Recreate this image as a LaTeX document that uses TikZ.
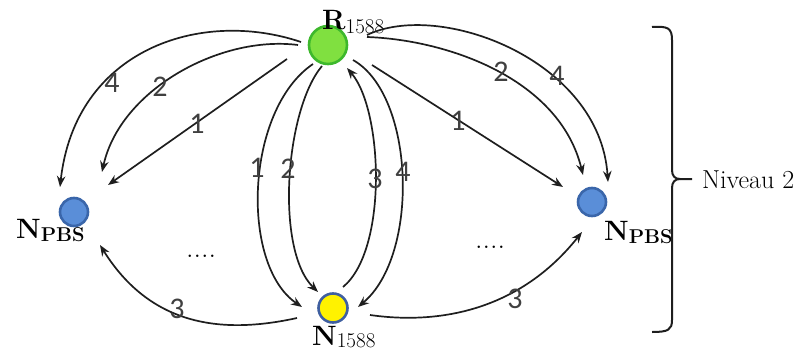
\documentclass[tikz,border=0pt]{standalone}
\usepackage{fontspec}
\newfontfamily\lblfont{Carlito}
\usetikzlibrary{arrows.meta,calc}
\definecolor{rgreen}{HTML}{80E040}
\definecolor{rgreenb}{HTML}{3DB82C}
\definecolor{yel}{HTML}{FFF200}
\definecolor{yelb}{HTML}{3F5FA0}
\definecolor{blu}{HTML}{5A8ED8}
\definecolor{blub}{HTML}{3A66AA}
\definecolor{ink}{HTML}{1E1E1E}
\tikzset{
  dot/.style={circle, inner sep=0pt, line width=2.6pt},
  arr/.style={draw=ink, line width=1.7pt, -{Stealth[length=11pt,width=8.5pt]}},
  num/.style={font=\lblfont\fontsize{30}{30}\selectfont, text=ink!85, inner sep=0pt},
  nlabel/.style={anchor=base west, inner sep=0pt, font=\fontsize{28}{28}\selectfont},
  dots/.style={font=\fontsize{30}{30}\selectfont, inner sep=0pt},
}
\begin{document}
\begin{tikzpicture}[x=1pt,y=-1pt]
\useasboundingbox (0,0) rectangle (803,353);

% nodes
\node[dot, fill=rgreen, draw=rgreenb, minimum size=38pt] (R) at (328,45) {};
\node[dot, fill=yel, draw=yelb, minimum size=29pt] (N) at (333,308) {};
\node[dot, fill=blu, draw=blub, minimum size=28pt] (L) at (74,212) {};
\node[dot, fill=blu, draw=blub, minimum size=28pt] (Rt) at (592,202) {};

% labels of nodes
\node[nlabel] (Rlab) at (322,30) {\textbf{R}\raisebox{-0.25ex}{\fontsize{21}{21}\selectfont 1588}};
\node[nlabel] (Nlab) at (312,345) {\textbf{N}\raisebox{-0.2ex}{\fontsize{21}{21}\selectfont 1588}};
\node[nlabel] (Llab) at (16,238) {\textbf{N}\raisebox{-0.3ex}{\fontsize{20}{20}\selectfont\bfseries PBS}};
\node[nlabel] (Rtlab) at (604,240) {\textbf{N}\raisebox{-0.3ex}{\fontsize{20}{20}\selectfont\bfseries PBS}};

% left connectors
\draw[arr] ($(R)+(-27,-3)$) .. controls (200,8) and (75,50) .. ($(L)+(-14,-25)$);
\draw[arr] ($(R)+(-30,0)$) .. controls (220,35) and (120,90) .. ($(L)+(28,-40)$);
\draw[arr] ($(R)+(-41,14)$) -- ($(L)+(34,-27)$);

% right connectors
\draw[arr] ($(R)+(39,-10)$) .. controls (440,0) and (600,60) .. ($(Rt)+(16,-20)$);
\draw[arr] ($(R)+(39,-8)$) .. controls (450,40) and (560,80) .. ($(Rt)+(-9,-27)$);
\draw[arr] ($(R)+(44,20)$) -- ($(Rt)+(-29,-15)$);

% vertical connectors
\draw[arr] ($(R)+(-15,19)$) .. controls (245,110) and (240,265) .. ($(N)+(-31,-1)$);
\draw[arr] ($(R)+(-6,21)$) .. controls (285,110) and (275,250) .. ($(N)+(-15,-16)$);
\draw[arr] ($(N)+(10,-21)$) .. controls (388,250) and (383,110) .. ($(R)+(19,23)$);
\draw[arr] ($(R)+(25,15)$) .. controls (415,95) and (420,255) .. ($(N)+(25,-1)$);

% bottom connectors
\draw[arr] ($(N)+(-36,10)$) .. controls (220,335) and (150,325) .. ($(L)+(26,33)$);
\draw[arr] ($(N)+(37,7)$) .. controls (440,325) and (520,310) .. ($(Rt)+(-10,30)$);

% number labels
\node[num] (n1) at (112,83) {4};
\node[num] (n2) at (160,87) {2};
\node[num] (n3) at (197,124) {1};
\node[num] (n4) at (557,76) {4};
\node[num] (n5) at (501,72) {2};
\node[num] (n6) at (458,121) {1};
\node[num] (n7) at (257,168) {1};
\node[num] (n8) at (288,169) {2};
\node[num] (n9) at (375,179) {3};
\node[num] (n10) at (403,172) {4};
\node[num] (n11) at (177,309) {3};
\node[num] (n12) at (515,299) {3};

% dots
\node[dots] (d1) at (201,256) {....};
\node[dots] (d2) at (490,247) {....};

% brace
\draw[ink, line width=2pt] (652,27) .. controls (668,26) and (672,28) .. (672,40)
  -- (672,170) .. controls (672,176) and (675,179) .. (680,179) -- (692,179);
\draw[ink, line width=2pt] (680,179) .. controls (675,179) and (672,182) .. (672,188)
  -- (672,320) .. controls (672,330) and (668,332) .. (652,332);
\node[anchor=west, inner sep=0pt, font=\fontsize{26}{26}\selectfont] (niv) at (702,180) {Niveau 2};
\end{tikzpicture}
\end{document}
